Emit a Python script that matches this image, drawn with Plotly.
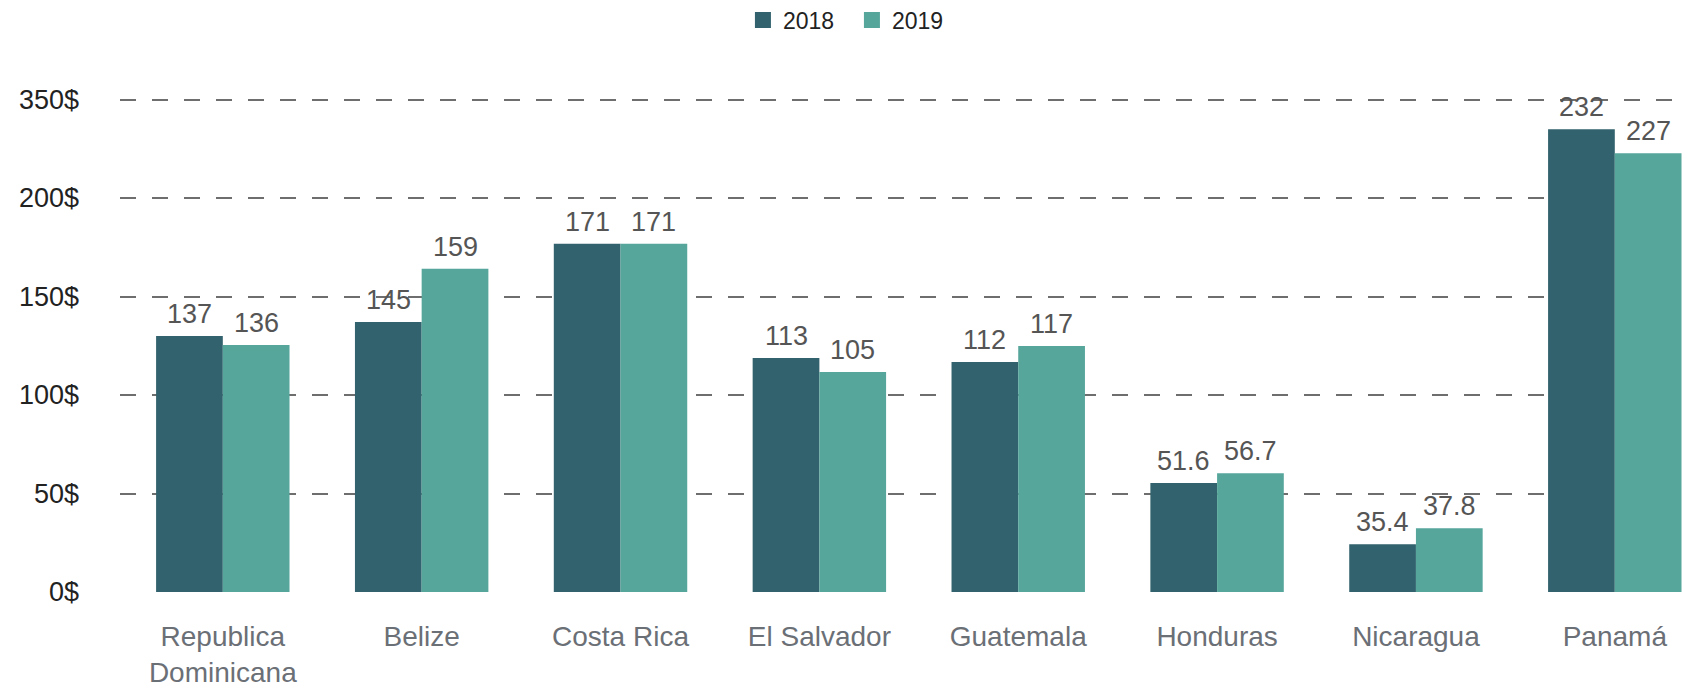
import plotly.graph_objects as go

categories = ["Republica<br>Dominicana", "Belize", "Costa Rica", "El Salvador",
              "Guatemala", "Honduras", "Nicaragua", "Panamá"]
series_names = ["2018", "2019"]
# bar heights as drawn in the reference
heights_2018 = [130.0, 137.1, 176.8, 118.8, 116.8, 55.3, 24.2, 234.9]
heights_2019 = [125.4, 164.1, 176.8, 111.7, 124.9, 60.3, 32.4, 222.8]
# printed value labels
labels_2018 = ["137", "145", "171", "113", "112", "51.6", "35.4", "232"]
labels_2019 = ["136", "159", "171", "105", "117", "56.7", "37.8", "227"]
tick_vals = [0, 50, 100, 150, 200, 250]
tick_text = ["0$", "50$", "100$", "150$", "200$", "350$"]

colors = ["#32626D", "#56A69C"]
FONT = "Liberation Sans, Arial, Helvetica, sans-serif"

fig = go.Figure()
for name, h, c in zip(series_names, [heights_2018, heights_2019], colors):
    fig.add_trace(go.Bar(x=categories, y=h, name=name, marker_color=c,
                         marker_line_width=0, showlegend=False, hoverinfo="skip"))
    fig.add_trace(go.Scatter(x=[None], y=[None], mode="markers", name=name,
                             marker=dict(symbol="square", size=16, color=c)))

bar_px = 66.7
for h, labs, shift in [(heights_2018, labels_2018, -bar_px / 2),
                       (heights_2019, labels_2019, bar_px / 2)]:
    for cat, v, t in zip(categories, h, labs):
        fig.add_annotation(x=cat, y=v, text=t, showarrow=False, xshift=shift,
                           yanchor="bottom", yshift=5,
                           font=dict(family=FONT, size=27, color="#555555"))

fig.update_layout(
    width=1688, height=689,
    margin=dict(l=120, r=4, t=70, b=97, autoexpand=False),
    paper_bgcolor="white", plot_bgcolor="white",
    barmode="group", bargap=0.329, bargroupgap=0,
    font=dict(family=FONT),
    legend=dict(orientation="h", xref="container", yref="container",
                x=0.5047, xanchor="center", y=0.971, yanchor="middle",
                font=dict(family=FONT, size=23, color="#222222"),
                itemwidth=30, tracegroupgap=0,
                entrywidth=64, entrywidthmode="pixels"),
    showlegend=True,
)
fig.update_xaxes(range=[-0.517, 7.348], showgrid=False, showline=False,
                 ticks="", ticklabelstandoff=25,
                 tickfont=dict(family=FONT, size=28, color="#6B6F76"))
fig.update_yaxes(range=[0, 265], tickvals=tick_vals, ticktext=tick_text,
                 showgrid=True, gridcolor="#6E6E6E", gridwidth=1.5,
                 griddash="16px,16px", zeroline=False, showline=False,
                 ticks="", ticklabelstandoff=40,
                 tickfont=dict(family=FONT, size=27, color="#222222"))

fig.write_html("out.html",
               config={"displayModeBar": False},
               post_script="document.body.style.margin='0';"
                           "document.body.style.overflow='hidden';")
